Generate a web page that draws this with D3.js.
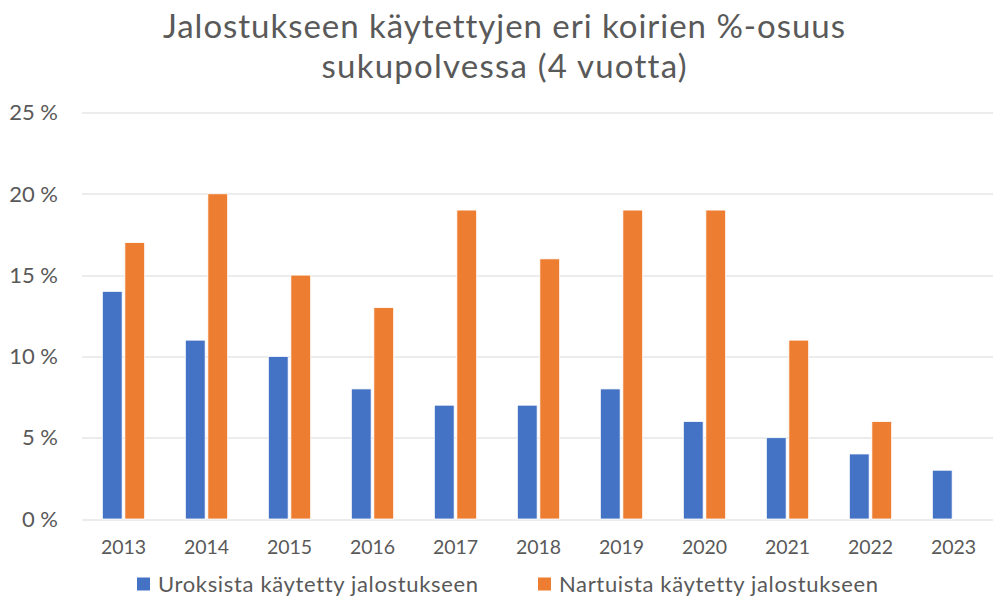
<!DOCTYPE html>
<html>
<head>
<meta charset="utf-8">
<script src="https://cdn.jsdelivr.net/npm/d3@7"></script>
<style>
  body { margin: 0; background: #fff; }
  svg { font-family: Lato, "Open Sans", sans-serif; font-variant-ligatures: none; }
</style>
</head>
<body>
<svg id="chart"></svg>
<script>
// Chart data
var years = ["2013", "2014", "2015", "2016", "2017", "2018", "2019", "2020", "2021", "2022", "2023"];
var urokset = [14, 11, 10, 8, 7, 7, 8, 6, 5, 4, 3];
var nartut = [17, 20, 15, 13, 19, 16, 19, 19, 11, 6, null];
var seriesNames = ["Uroksista käytetty jalostukseen", "Nartuista käytetty jalostukseen"];
var seriesColors = ["#4472C4", "#ED7D31"];
var yTicks = [0, 5, 10, 15, 20, 25];
var titleLines = ["Jalostukseen käytettyjen eri koirien %-osuus", "sukupolvessa (4 vuotta)"];

var width = 993, height = 598;
var margin = { top: 112.5, right: -2, bottom: 79, left: 82 };

var svg = d3.select("#chart")
    .attr("width", width)
    .attr("height", height);

// Title (widths matched to the reference)
var titleWidths = [682, 365];
svg.append("g")
    .selectAll("text")
    .data(titleLines)
    .join("text")
    .attr("x", 504)
    .attr("y", function(d, i) { return 38 + i * 40; })
    .attr("text-anchor", "middle")
    .attr("fill", "#595959")
    .attr("textLength", function(d, i) { return titleWidths[i]; })
    .attr("lengthAdjust", "spacing")
    .style("font-size", "33px")
    .text(function(d) { return d; });

var g = svg.append("g")
    .attr("transform", "translate(" + margin.left + "," + margin.top + ")");
var innerW = width - margin.left - margin.right;
var innerH = height - margin.top - margin.bottom;

var x = d3.scaleBand()
    .domain(years)
    .range([0, innerW])
    .paddingInner(0.49)
    .paddingOuter(0.245);

var xSub = d3.scaleBand()
    .domain([0, 1])
    .range([0, x.bandwidth()])
    .paddingInner(0.12);

var y = d3.scaleLinear()
    .domain([0, 25])
    .range([innerH, 0]);

// Gridlines
g.append("g")
    .selectAll("line")
    .data(yTicks)
    .join("line")
    .attr("x1", 0)
    .attr("x2", innerW)
    .attr("y1", function(d) { return Math.round(y(d)) + 0.5; })
    .attr("y2", function(d) { return Math.round(y(d)) + 0.5; })
    .attr("stroke", "#d9d9d9")
    .attr("stroke-width", 1);

// Y labels
g.append("g")
    .selectAll("text")
    .data(yTicks)
    .join("text")
    .attr("x", -24)
    .attr("y", function(d) { return y(d); })
    .attr("dy", "0.35em")
    .attr("text-anchor", "end")
    .attr("fill", "#595959")
    .style("font-size", "22px")
    .text(function(d) { return d + " %"; });

// Bars
var series = [urokset, nartut];
series.forEach(function(vals, s) {
    g.append("g")
        .selectAll("rect")
        .data(years.map(function(yr, i) { return { year: yr, value: vals[i] }; })
            .filter(function(d) { return d.value != null; }))
        .join("rect")
        .attr("x", function(d) { return x(d.year) + xSub(s); })
        .attr("y", function(d) { return y(d.value); })
        .attr("width", xSub.bandwidth())
        .attr("height", function(d) { return y(0) - y(d.value); })
        .attr("fill", seriesColors[s])
        .attr("stroke", "#fff")
        .attr("stroke-width", 0.8);
});

// X axis labels
var xAxis = g.append("g")
    .attr("transform", "translate(0," + innerH + ")")
    .call(d3.axisBottom(x).tickSize(0).tickPadding(21));
xAxis.select(".domain").remove();
xAxis.selectAll("text")
    .attr("fill", "#595959")
    .style("font-size", "19.5px")
    .style("font-family", "Lato, 'Open Sans', sans-serif");

// Legend
var legendX = [137, 538];
var legendWidths = [320, 319];
var legend = svg.append("g")
    .selectAll("g")
    .data(seriesNames)
    .join("g")
    .attr("transform", function(d, i) { return "translate(" + legendX[i] + ",584)"; });
legend.append("rect")
    .attr("x", 0)
    .attr("y", -6.5)
    .attr("width", 13)
    .attr("height", 13)
    .attr("fill", function(d, i) { return seriesColors[i]; });
legend.append("text")
    .attr("x", 21)
    .attr("y", 0)
    .attr("dy", "0.35em")
    .attr("fill", "#595959")
    .attr("textLength", function(d, i) { return legendWidths[i]; })
    .attr("lengthAdjust", "spacing")
    .style("font-size", "22px")
    .text(function(d) { return d; });
</script>
</body>
</html>
